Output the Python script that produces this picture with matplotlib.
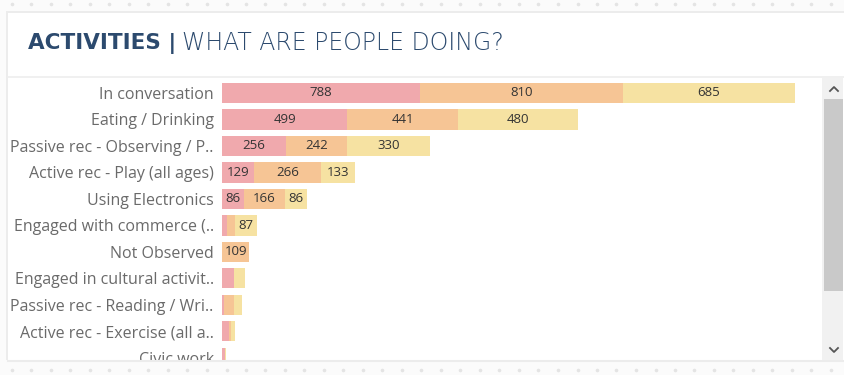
import numpy as np
import matplotlib.pyplot as plt
from matplotlib.patches import Rectangle
from matplotlib.lines import Line2D

# ==== DATOS ====
categories = [
    "In conversation",
    "Eating / Drinking",
    "Passive rec - Observing / P..",
    "Active rec - Play (all ages)",
    "Using Electronics",
    "Engaged with commerce (..",
    "Not Observed",
    "Engaged in cultural activit..",
    "Passive rec - Reading / Wri..",
    "Active rec - Exercise (all a..",
    "Civic work",
]
pink_vals = [788, 499, 256, 129, 86, 20, 0, 48, 8, 26, 10]
orange_vals = [810, 441, 242, 266, 166, 32, 109, 0, 40, 8, 3]
yellow_vals = [685, 480, 330, 133, 86, 87, 0, 42, 32, 18, 4]

COLORS = ["#f0a9ad", "#f6c595", "#f6e2a2"]
LABEL_MIN = 80          # segmentos mas pequenos van sin etiqueta
W, H = 845, 375         # tamano en pixeles


def fx(x):
    return x / W


def fy(y):
    return 1 - y / H


fig = plt.figure(figsize=(W / 100, H / 100), dpi=100)
fig.patch.set_facecolor("#fbfbfb")

# tarjeta blanca con sombra suave
fig.add_artist(Rectangle((fx(6), fy(362)), fx(845) - fx(6), fy(11) - fy(362),
                         transform=fig.transFigure, facecolor="#ececec",
                         edgecolor="none", zorder=0))
fig.add_artist(Rectangle((fx(8), fy(360)), fx(845) - fx(8), fy(13) - fy(360),
                         transform=fig.transFigure, facecolor="white",
                         edgecolor="none", zorder=0))
fig.add_artist(Line2D([fx(8), fx(845)], [fy(76.5), fy(76.5)],
                      transform=fig.transFigure, color="#eeeeee", lw=1.2, zorder=1))

# titulo
navy = "#2c4a6e"
t1 = fig.text(fx(28), fy(43), "ACTIVITIES |", fontsize=15.5, fontweight="bold",
              color=navy, va="center", ha="left", family="DejaVu Sans")
fig.canvas.draw()
bb = t1.get_window_extent()
fig.text(bb.x1 / W + fx(6), fy(43), "WHAT ARE PEOPLE DOING?", fontsize=17,
         color=navy, va="center", ha="left", family="DejaVu Sans",
         fontweight="light")

# barras
ax = fig.add_axes([fx(222), fy(360), fx(822) - fx(222), fy(78) - fy(360)])
ax.set_facecolor("white")
y = np.arange(len(categories))
left = np.zeros(len(categories))
for vals, col in zip([pink_vals, orange_vals, yellow_vals], COLORS):
    vals = np.array(vals, dtype=float)
    ax.barh(y, vals, left=left, height=0.76, color=col, edgecolor="none")
    for yi, l, v in zip(y, left, vals):
        if v >= LABEL_MIN:
            ax.text(l + v / 2, yi, f"{int(v)}", ha="center", va="center",
                    fontsize=9.5, color="#333333", family="Open Sans")
    left += vals

ax.set_xlim(0, 600 / 0.251)
ax.set_ylim(10.08, -0.566)
ax.set_xticks([])
ax.set_yticks(y)
ax.set_yticklabels(categories, fontsize=11.5, color="#6a6a6a", family="Open Sans")
ax.tick_params(axis="y", length=0, pad=6)
for s in ax.spines.values():
    s.set_visible(False)

# tapa la parte inferior para recortar la ultima fila
fig.add_artist(Rectangle((0, 0), 1, fy(360), transform=fig.transFigure,
                         facecolor="#fbfbfb", edgecolor="none", zorder=5))
fig.add_artist(Line2D([fx(8), fx(845)], [fy(360.5), fy(360.5)],
                      transform=fig.transFigure, color="#ececec", lw=1.5, zorder=6))

# barra de desplazamiento
fig.add_artist(Rectangle((fx(822), fy(360)), fx(843) - fx(822), fy(78) - fy(360),
                         transform=fig.transFigure, facecolor="#f1f1f1",
                         edgecolor="none", zorder=6))
fig.add_artist(Rectangle((fx(824), fy(291)), fx(843) - fx(824), fy(99) - fy(291),
                         transform=fig.transFigure, facecolor="#c9c9c9",
                         edgecolor="none", zorder=7))
for cy, d in [(89, -1), (350, 1)]:
    fig.add_artist(Line2D([fx(830), fx(834), fx(838)],
                          [fy(cy - 2 * d), fy(cy + 2 * d), fy(cy - 2 * d)],
                          transform=fig.transFigure, color="#555555", lw=1.3,
                          zorder=8))

# puntos decorativos del fondo
dots_x = np.arange(12, W, 19.5)
for yy in (4, 370):
    fig.add_artist(Line2D(dots_x / W, np.full_like(dots_x, fy(yy)),
                          transform=fig.transFigure, ls="none", marker="o",
                          ms=1.6, color="#e4e4e4", zorder=9))

fig.savefig("out.png", dpi=100, facecolor=fig.get_facecolor())
